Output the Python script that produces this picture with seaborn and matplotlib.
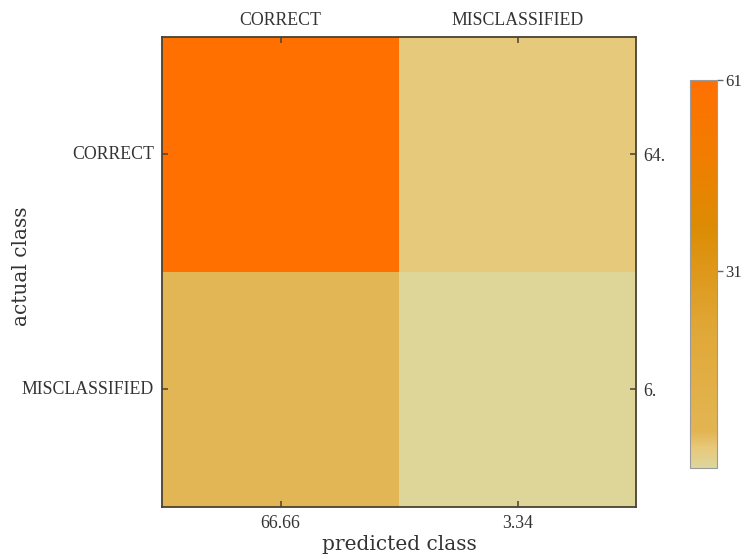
import numpy as np
import pandas as pd
import matplotlib
matplotlib.use("Agg")
import matplotlib.pyplot as plt
from matplotlib.colors import LinearSegmentedColormap
import seaborn as sns

# Confusion matrix: rows = actual class, columns = predicted class
classes = ["CORRECT", "MISCLASSIFIED"]
counts_row_correct = [61.0, 3.0]
counts_row_miscl = [5.66, 0.34]
color_min = 0
color_max = 61
colorbar_ticks = [31, 61]

matrix = pd.DataFrame([counts_row_correct, counts_row_miscl], index=classes, columns=classes)
row_totals = matrix.sum(axis=1).values
col_totals = matrix.sum(axis=0).values

sns.set_theme(style="ticks")
serif = ["Liberation Serif", "DejaVu Serif"]
plt.rcParams["font.family"] = serif
text_col = "#333333"
frame_col = "#4a4232"

cmap = LinearSegmentedColormap.from_list(
    "sunset_gold",
    [(0.0, "#ddd69c"), (0.05, "#e8c87a"), (0.093, "#e2b552"),
     (0.35, "#e0a838"), (0.62, "#dc8c04"), (0.82, "#f27c00"), (1.0, "#ff7000")],
)

fig = plt.figure(figsize=(7.5, 5.59), dpi=100)
ax = fig.add_axes([0.216, 0.093, 0.632, 0.841])
cax = fig.add_axes([0.920, 0.163, 0.036, 0.694])

sns.heatmap(matrix, ax=ax, cmap=cmap, vmin=color_min, vmax=color_max,
            cbar_ax=cax, cbar_kws={"ticks": colorbar_ticks}, square=False)

# frame
for sp in ax.spines.values():
    sp.set_visible(True)
    sp.set_color(frame_col)
    sp.set_linewidth(1.3)
    sp.set_zorder(5)

tick_kw = dict(direction="in", length=4, width=1.1, color=frame_col,
               labelsize=12.8, labelcolor=text_col)

# bottom: column totals
ax.set_xticks(np.arange(len(classes)) + 0.5)
ax.set_xticklabels([f"{v:.2f}" for v in col_totals], rotation=0, fontfamily=serif)
# left: class names
ax.set_yticks(np.arange(len(classes)) + 0.5)
ax.set_yticklabels(classes, rotation=0, fontfamily=serif)
ax.xaxis.set_tick_params(which="major", bottom=True, top=False, pad=6, **tick_kw)
ax.yaxis.set_tick_params(which="major", left=True, right=False, pad=6, **tick_kw)
ax.set_axisbelow(False)

ax.set_xlabel("predicted class", fontsize=14.5, color=text_col,
              fontfamily=["DejaVu Serif"], labelpad=2)
ax.set_ylabel("actual class", fontsize=14.5, color=text_col,
              fontfamily=["DejaVu Serif"])
ax.yaxis.set_label_coords(-0.276, 0.512)

# top: class names
axt = ax.twiny()
axt.set_xlim(ax.get_xlim())
axt.set_xticks(np.arange(len(classes)) + 0.5)
axt.set_xticklabels(classes, fontfamily=serif)
axt.xaxis.set_tick_params(which="major", top=True, bottom=False, pad=6, **tick_kw)

# right: row totals
axr = ax.twinx()
axr.set_ylim(ax.get_ylim())
axr.set_yticks(np.arange(len(classes)) + 0.5)
axr.set_yticklabels([f"{v:.0f}." for v in row_totals], fontfamily=serif)
axr.yaxis.set_tick_params(which="major", right=True, left=False, pad=5, **tick_kw)
for a in (axt, axr):
    for sp in a.spines.values():
        sp.set_visible(False)

# colorbar styling
cb = ax.collections[0].colorbar
cb.outline.set_edgecolor("#9a9a9a")
cb.outline.set_linewidth(0.8)
cax.tick_params(axis="y", direction="out", length=4, width=1, color="#666666",
                labelsize=12, labelcolor=text_col, pad=2)
for t in cax.get_yticklabels():
    t.set_fontfamily(serif)

fig.savefig("out.png", dpi=100, facecolor="white")
